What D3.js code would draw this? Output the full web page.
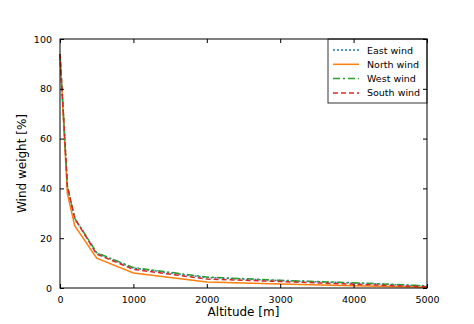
<!DOCTYPE html>
<html>
<head>
<meta charset="utf-8">
<script src="https://cdn.jsdelivr.net/npm/d3@7"></script>
<style>
  body { margin: 0; background: #fff; }
  text { font-family: "DejaVu Sans", sans-serif; fill: #000; }
</style>
</head>
<body>
<svg width="474" height="324"></svg>
<script>
// data
var altitude  = [0, 50, 100, 200, 500, 1000, 2000, 3000, 4000, 5000];
var eastWind  = [94, 68, 41, 28, 14, 8, 4.2, 3.0, 2.0, 0.8];
var northWind = [94, 66, 38, 25, 12, 6, 2.4, 1.6, 0.9, 0.3];
var westWind  = [94, 68, 41, 28, 14.2, 8.2, 4.4, 3.1, 2.1, 0.9];
var southWind = [94, 68, 41, 28, 13.6, 7.5, 3.6, 2.6, 1.5, 0.5];
var xTicks = [0, 1000, 2000, 3000, 4000, 5000];
var yTicks = [0, 20, 40, 60, 80, 100];

var series = [
  { name: "East wind",  values: eastWind,  color: "#1f77b4", dash: "2,2" },
  { name: "North wind", values: northWind, color: "#ff7f0e", dash: null },
  { name: "West wind",  values: westWind,  color: "#2ca02c", dash: "7,3,2,3" },
  { name: "South wind", values: southWind, color: "#d62728", dash: "5,3" }
];

var svg = d3.select("svg");
var pLeft = 60, pRight = 427, pTop = 39, pBottom = 288;

var xScale = d3.scaleLinear().domain([0, 5000]).range([pLeft, pRight]);
var yScale = d3.scaleLinear().domain([0, 100]).range([pBottom, pTop]);

// lines
var line = d3.line()
  .x(function(d) { return xScale(d[0]); })
  .y(function(d) { return yScale(d[1]); });

series.forEach(function(s) {
  svg.append("path")
    .datum(altitude.map(function(a, i) { return [a, s.values[i]]; }))
    .attr("d", line)
    .style("fill", "none")
    .style("stroke", s.color)
    .style("stroke-width", 1.5)
    .style("stroke-dasharray", s.dash);
});

// legend (sits in the top right corner, under the frame)
var legend = svg.append("g").attr("transform", "translate(328," + pTop + ")");
legend.append("rect")
  .attr("width", pRight - 328).attr("height", 64)
  .style("fill", "#fff").style("stroke", "#000").style("stroke-width", 0.8);

series.forEach(function(s, i) {
  var y = 11 + i * 14.3;
  legend.append("line")
    .attr("x1", 5).attr("x2", 31).attr("y1", y).attr("y2", y)
    .style("stroke", s.color)
    .style("stroke-width", 1.5)
    .style("stroke-dasharray", s.dash);
  legend.append("text")
    .attr("x", 39).attr("y", y + 3.5)
    .style("font-size", "9.5px")
    .text(s.name);
});

// axes, ticks pointing inward on all four sides
function styleAxis(g) {
  g.select(".domain").remove();
  g.selectAll(".tick line").attr("stroke", "#000");
  g.selectAll(".tick text").style("font-size", "9.5px").style("font-family", "DejaVu Sans").attr("fill", "#000");
}

svg.append("g")
  .attr("transform", "translate(0," + pBottom + ")")
  .call(d3.axisBottom(xScale).tickValues(xTicks).tickSizeInner(-4).tickSizeOuter(0).tickPadding(8).tickFormat(d3.format("d")))
  .call(styleAxis);

svg.append("g")
  .attr("transform", "translate(0," + pTop + ")")
  .call(d3.axisTop(xScale).tickValues(xTicks).tickSizeInner(-4).tickSizeOuter(0).tickFormat(""))
  .call(styleAxis);

svg.append("g")
  .attr("transform", "translate(" + pLeft + ",0)")
  .call(d3.axisLeft(yScale).tickValues(yTicks).tickSizeInner(-4).tickSizeOuter(0).tickPadding(8))
  .call(styleAxis);

svg.append("g")
  .attr("transform", "translate(" + pRight + ",0)")
  .call(d3.axisRight(yScale).tickValues(yTicks).tickSizeInner(-4).tickSizeOuter(0).tickFormat(""))
  .call(styleAxis);

// frame
svg.append("rect")
  .attr("x", pLeft).attr("y", pTop)
  .attr("width", pRight - pLeft).attr("height", pBottom - pTop)
  .style("fill", "none").style("stroke", "#000").style("stroke-width", 1);

// axis labels
svg.append("text")
  .attr("x", (pLeft + pRight) / 2)
  .attr("y", 316)
  .attr("text-anchor", "middle")
  .style("font-size", "12px")
  .text("Altitude [m]");

svg.append("text")
  .attr("text-anchor", "middle")
  .attr("transform", "translate(26," + (pTop + pBottom) / 2 + ")rotate(-90)")
  .style("font-size", "12px")
  .text("Wind weight [%]");
</script>
</body>
</html>
